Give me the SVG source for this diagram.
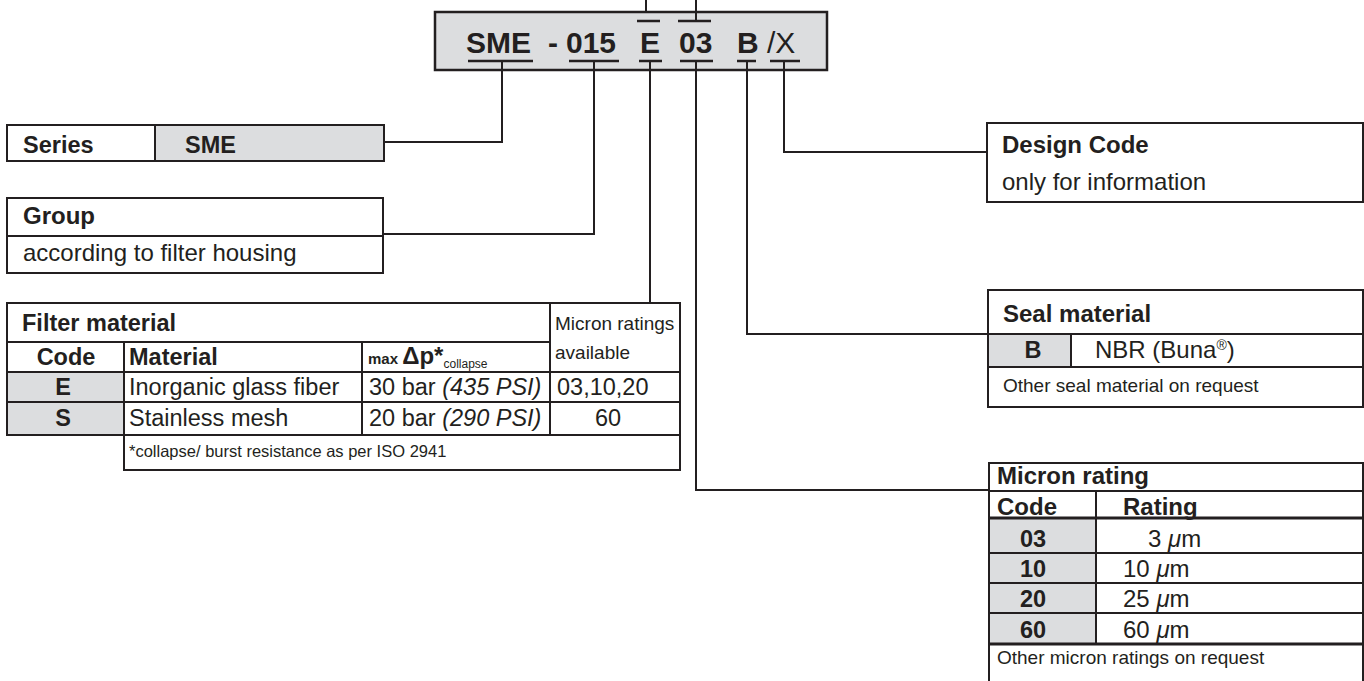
<svg xmlns="http://www.w3.org/2000/svg" width="1364" height="681" viewBox="0 0 1364 681">
<style>
.b{fill:none;stroke:#231f20;stroke-width:2}
.g{fill:#dcdddf;stroke:none}
.w{fill:#fff;stroke:none}
.c{fill:none;stroke:#231f20;stroke-width:2}
.u{fill:none;stroke:#231f20;stroke-width:2.5}
text{font-family:"Liberation Sans",Arial,sans-serif;fill:#231f20}
.bd{font-weight:bold}
.t24{font-size:24px}
.t23{font-size:23.5px}
.t19{font-size:19px}
.it{font-style:italic}
</style>
<rect width="1364" height="681" fill="#fff"/>

<g id="code">
<rect x="435" y="12" width="392" height="58" fill="#dcdddf" stroke="#231f20" stroke-width="2.5"/>
<text x="466" y="53" class="bd" font-size="30">SME</text>
<text x="548" y="53" class="bd" font-size="30">-</text>
<text x="566" y="53" class="bd" font-size="30">015</text>
<text x="640" y="53" class="bd" font-size="30">E</text>
<text x="679" y="53" class="bd" font-size="30">03</text>
<text x="737" y="53" class="bd" font-size="30">B</text>
<text x="767" y="53" font-size="30">/X</text>
<path class="u" d="M468 61H533M569 61H619M639 61H662M680 61H713M737 61H756M770 61H800M637 21H660M678 21H711"/>
</g>

<g id="connectors">
<path class="c" d="M646 0V12M696 0V21"/>
<path class="c" d="M502 61V142H384"/>
<path class="c" d="M594 61V234H383"/>
<path class="c" d="M650 61V303"/>
<path class="c" d="M696 61V490H989"/>
<path class="c" d="M747 61V334H988"/>
<path class="c" d="M784 61V152H987"/>
</g>

<g id="series">
<rect class="g" x="155" y="125" width="229" height="36"/>
<rect class="b" x="7" y="125" width="377" height="36"/>
<path class="b" d="M155 125V161"/>
<text x="23" y="153" class="bd t23">Series</text>
<text x="185" y="153" class="bd t23">SME</text>
</g>

<g id="group">
<rect class="b" x="7" y="198" width="376" height="75"/>
<path class="b" d="M7 236H383"/>
<text x="23" y="224" class="bd t24">Group</text>
<text x="23" y="261" class="t24">according to filter housing</text>
</g>

<g id="filter-material">
<rect class="g" x="7" y="372" width="117" height="63"/>
<path class="b" d="M7 303H680V470H124V435H7Z"/>
<path class="b" d="M7 342H550M7 372H680M7 402H680M7 435H680M124 342V470M362 342V435M550 303V435"/>
<text x="22" y="331" class="bd t23">Filter material</text>
<text x="66" y="365" class="bd t23" text-anchor="middle">Code</text>
<text x="129" y="365" class="bd t23">Material</text>
<text x="368" y="364"><tspan class="bd" font-size="15">max </tspan><tspan class="bd" font-size="24">Δp*</tspan><tspan font-size="12" dy="4">collapse</tspan></text>
<text x="555" y="330" class="t19">Micron ratings</text>
<text x="555" y="359" class="t19">available</text>
<text x="63" y="395" class="bd t23" text-anchor="middle">E</text>
<text x="129" y="395" class="t23">Inorganic glass fiber</text>
<text x="369" y="395" class="t23">30 bar <tspan class="it">(435 PSI)</tspan></text>
<text x="557" y="395" class="t23">03,10,20</text>
<text x="63" y="426" class="bd t23" text-anchor="middle">S</text>
<text x="129" y="426" class="t23">Stainless mesh</text>
<text x="369" y="426" class="t23">20 bar <tspan class="it">(290 PSI)</tspan></text>
<text x="608" y="426" class="t23" text-anchor="middle">60</text>
<text x="129" y="457" font-size="16.5">*collapse/ burst resistance as per ISO 2941</text>
</g>

<g id="design-code">
<rect class="b" x="987" y="123" width="376" height="79"/>
<text x="1002" y="153" class="bd t24">Design Code</text>
<text x="1002" y="190" class="t24">only for information</text>
</g>

<g id="seal-material">
<rect class="g" x="988" y="334" width="83" height="33"/>
<rect class="b" x="988" y="290" width="375" height="117"/>
<path class="b" d="M988 334H1363M988 367H1363M1071 334V367"/>
<text x="1003" y="322" class="bd t24">Seal material</text>
<text x="1033" y="358" class="bd t23" text-anchor="middle">B</text>
<text x="1095" y="358" class="t24">NBR (Buna<tspan font-size="14" dy="-8">®</tspan><tspan dy="8">)</tspan></text>
<text x="1003" y="392" class="t19">Other seal material on request</text>
</g>

<g id="micron-rating">
<rect class="g" x="989" y="518" width="107" height="126"/>
<rect class="b" x="989" y="463" width="374" height="220"/>
<path class="b" d="M989 491H1363M1096 491V644M989 553H1363M989 583H1363M989 613H1363"/>
<path fill="none" stroke="#231f20" stroke-width="3" d="M989 518H1363M989 644H1363"/>
<text x="997" y="484" class="bd t24">Micron rating</text>
<text x="997" y="515" class="bd t24">Code</text>
<text x="1123" y="515" class="bd t24">Rating</text>
<text x="1033" y="547" class="bd t23" text-anchor="middle">03</text>
<text x="1033" y="577" class="bd t23" text-anchor="middle">10</text>
<text x="1033" y="607" class="bd t23" text-anchor="middle">20</text>
<text x="1033" y="638" class="bd t23" text-anchor="middle">60</text>
<text x="1148" y="547" class="t24">3 <tspan class="it">μ</tspan>m</text>
<text x="1123" y="577" class="t24">10 <tspan class="it">μ</tspan>m</text>
<text x="1123" y="607" class="t24">25 <tspan class="it">μ</tspan>m</text>
<text x="1123" y="638" class="t24">60 <tspan class="it">μ</tspan>m</text>
<text x="997" y="664" class="t19">Other micron ratings on request</text>
</g>
</svg>
